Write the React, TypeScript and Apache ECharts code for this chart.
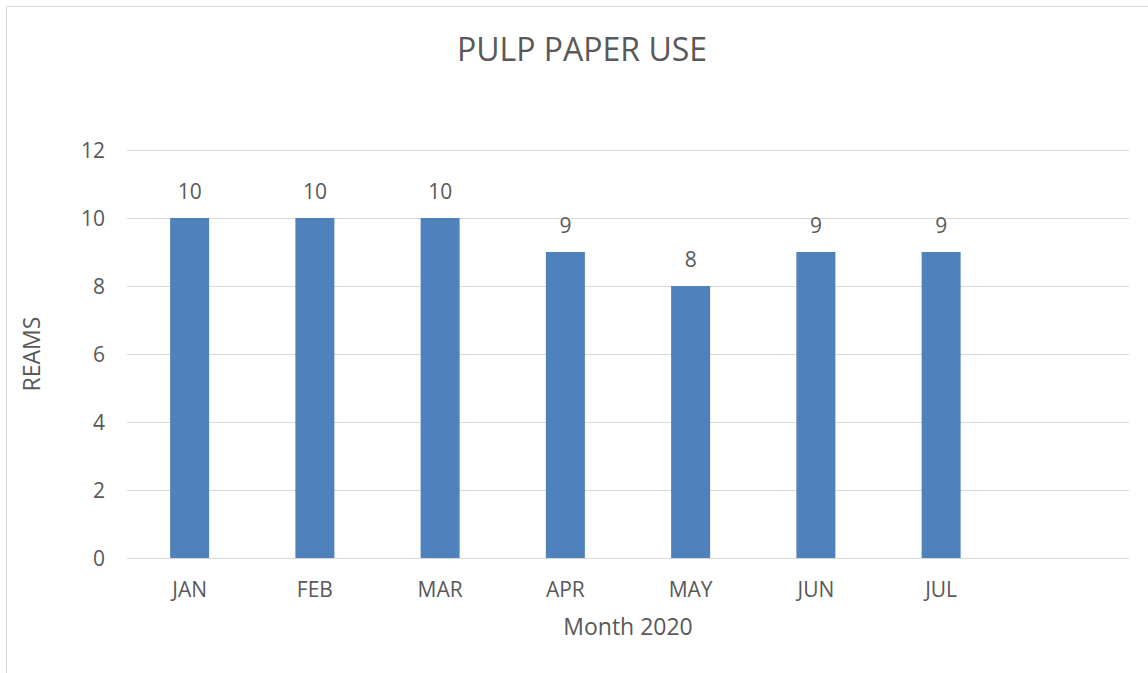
import React, { useEffect, useRef } from "react";
import * as echarts from "echarts";

const categories = ["JAN", "FEB", "MAR", "APR", "MAY", "JUN", "JUL", ""];
const reams = [10, 10, 10, 9, 8, 9, 9, null];
const yTicks = { min: 0, max: 12, interval: 2 };
const title = "PULP PAPER USE";
const xName = "Month 2020";
const yName = "REAMS";

const FONT = "'Open Sans', 'Liberation Sans', sans-serif";
const TEXT = "#595959";

export default function App() {
  const ref = useRef<HTMLDivElement>(null);
  useEffect(() => {
    const chart = echarts.init(ref.current!, null, { renderer: "svg" });
    chart.setOption({
      animation: false,
      backgroundColor: "#ffffff",
      textStyle: { fontFamily: FONT, color: TEXT },
      title: {
        text: title,
        left: 452,
        top: 27,
        textStyle: { fontFamily: FONT, fontSize: 32, fontWeight: "normal", color: TEXT },
      },
      graphic: [
        {
          type: "rect",
          shape: { x: 6.5, y: 6.5, width: 1160, height: 700 },
          style: { fill: "none", stroke: "#D9D9D9", lineWidth: 1 },
          silent: true,
        },
      ],
      grid: { left: 127, right: 19, top: 150, bottom: 115, containLabel: false },
      xAxis: {
        type: "category",
        data: categories,
        name: xName,
        nameLocation: "middle",
        nameGap: 56,
        nameTextStyle: { fontFamily: FONT, fontSize: 23, color: TEXT },
        axisLine: { show: true, lineStyle: { color: "#D9D9D9", width: 1 } },
        axisTick: { show: false },
        axisLabel: { fontFamily: FONT, fontSize: 21, color: TEXT, margin: 20 },
      },
      yAxis: {
        type: "value",
        min: yTicks.min,
        max: yTicks.max,
        interval: yTicks.interval,
        name: yName,
        nameLocation: "middle",
        nameGap: 85,
        nameRotate: 90,
        nameTextStyle: { fontFamily: FONT, fontSize: 23, color: TEXT },
        axisLine: { show: false },
        axisTick: { show: false },
        axisLabel: { fontFamily: FONT, fontSize: 21, color: TEXT, margin: 22 },
        splitLine: { lineStyle: { color: "#D9D9D9", width: 1 } },
      },
      series: [
        {
          type: "bar",
          data: reams,
          barWidth: 39,
          itemStyle: { color: "#4F81BD" },
          label: {
            show: true,
            position: "top",
            distance: 17,
            fontFamily: FONT,
            fontSize: 21,
            color: TEXT,
          },
        },
      ],
    });
    return () => chart.dispose();
  }, []);
  return (
    <div
      ref={ref}
      style={{ position: "fixed", left: 0, top: 0, width: 1148, height: 673 }}
    />
  );
}
